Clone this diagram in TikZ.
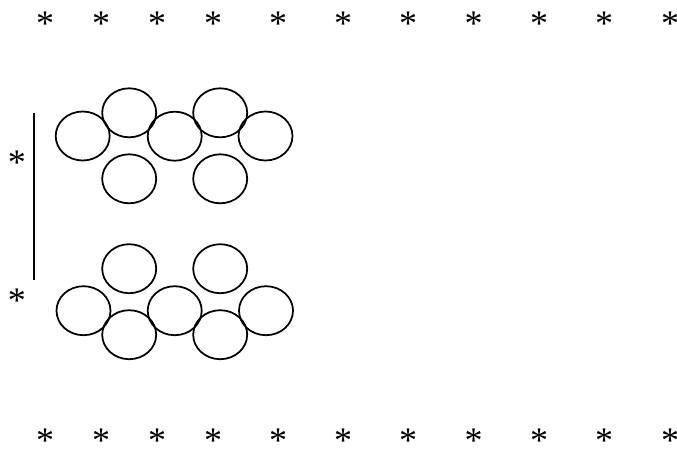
\documentclass[tikz,border=0pt]{standalone}
\usepackage{fontspec}
\setmainfont{Liberation Serif}
\usetikzlibrary{shapes.geometric}
\tikzset{
  cell/.style={draw=black,line width=1.75pt,ellipse,minimum width=54pt,minimum height=49pt,inner sep=0pt},
  star/.style={inner sep=0pt,font=\fontsize{36}{36}\selectfont,text height=14pt,text depth=0pt,anchor=center,yshift=-8.5pt}
}
\begin{document}
\begin{tikzpicture}[x=1pt,y=-1pt]
\useasboundingbox (0,0) rectangle (677,448);
\foreach \n/\x/\y in {a/82.7/136,b/129.2/112.8,c/174.7/136.2,d/220.2/112.8,e/265.5/136,f/129.2/178.8,g/220.2/178.8,h/129.2/268.7,i/220.2/268.7,j/83.5/310.7,k/174.7/310.7,l/266/310.7,m/129.2/334.7,n/220.2/334.7}
  \node[cell] (\n) at (\x,\y) {};
\foreach \x [count=\i] in {45,101,157,213,278,343,408,473.5,539,604,670} {
  \node[star] (t\i) at (\x,20) {*};
  \node[star] (u\i) at (\x,437) {*};
}
\node[star] (s1) at (17,159) {*};
\node[star] (s2) at (17,297) {*};
\coordinate (p) at (34,113);
\coordinate (q) at (34,280);
\draw[line width=2.2pt] (p) -- (q);
\end{tikzpicture}
\end{document}
